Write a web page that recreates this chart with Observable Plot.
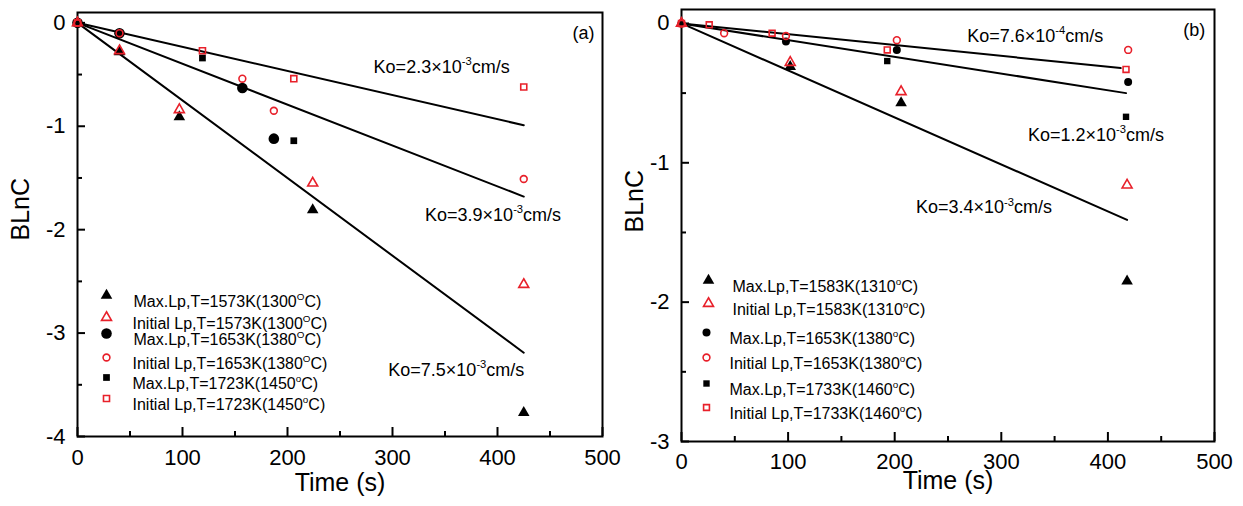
<!DOCTYPE html>
<html><head><meta charset="utf-8">
<script src="https://cdn.jsdelivr.net/npm/d3@7"></script>
<script src="https://cdn.jsdelivr.net/npm/@observablehq/plot@0.6"></script>
<style>
body{margin:0;background:#fff;}
#wrap{position:relative;width:1243px;height:506px;overflow:hidden;background:#fff;}
.panel{position:absolute;top:0;}
</style>
</head><body><div id="wrap"></div>
<script>
// ---------- Panel (a) data ----------
const a_t1573 = [0, 40, 97, 224, 425];
const a_max1573 = [0, -0.28, -0.91, -1.81, -3.77];
const a_init1573 = [0, -0.27, -0.84, -1.55, -2.53];
const a_t1653max = [0, 40, 157, 187];
const a_max1653 = [0, -0.10, -0.63, -1.12];
const a_t1653init = [0, 40, 157, 187, 425];
const a_init1653 = [0, -0.10, -0.54, -0.85, -1.51];
const a_t1723max = [0, 119, 206];
const a_max1723 = [0, -0.34, -1.14];
const a_t1723init = [0, 119, 206, 425];
const a_init1723 = [0, -0.27, -0.54, -0.62];
const a_fitEndX = [425, 425, 425];
const a_fitEndY = [-0.99, -1.68, -3.19];
const a_koText = ["Ko=2.3×10^{-3}cm/s", "Ko=3.9×10^{-3}cm/s", "Ko=7.5×10^{-3}cm/s"];
const a_koX = [282, 331, 296];
const a_koY = [-0.43, -1.86, -3.36];
const a_legend = ["Max.Lp,T=1573K(1300^{O}C)", "Initial Lp,T=1573K(1300^{O}C)",
  "Max.Lp,T=1653K(1380^{O}C)", "Initial Lp,T=1653K(1380^{O}C)",
  "Max.Lp,T=1723K(1450^{o}C)", "Initial Lp,T=1723K(1450^{o}C)"];

// ---------- Panel (b) data ----------
const b_t1583 = [0, 102, 206, 418];
const b_max1583 = [0, -0.31, -0.57, -1.85];
const b_init1583 = [0, -0.28, -0.49, -1.16];
const b_t1653max = [0, 98, 202, 419];
const b_max1653 = [0, -0.13, -0.19, -0.42];
const b_t1653init = [0, 40, 98, 202, 419];
const b_init1653 = [0, -0.07, -0.09, -0.12, -0.19];
const b_t1733max = [0, 193, 417];
const b_max1733 = [0, -0.27, -0.67];
const b_t1733init = [0, 26, 85, 193, 417];
const b_init1733 = [0, -0.01, -0.07, -0.19, -0.33];
const b_fitEndX = [412, 417, 418];
const b_fitEndY = [-0.32, -0.50, -1.41];
const b_koText = ["Ko=7.6×10^{-4}cm/s", "Ko=1.2×10^{-3}cm/s", "Ko=3.4×10^{-3}cm/s"];
const b_koX = [268, 325, 220];
const b_koY = [-0.09, -0.80, -1.32];
const b_legend = ["Max.Lp,T=1583K(1310^{o}C)", "Initial Lp,T=1583K(1310^{o}C)",
  "Max.Lp,T=1653K(1380^{o}C)", "Initial Lp,T=1653K(1380^{o}C)",
  "Max.Lp,T=1733K(1460^{o}C)", "Initial Lp,T=1733K(1460^{o}C)"];

// ---------- ticks ----------
const xMajor = [0, 100, 200, 300, 400, 500];
const xMinor = [50, 150, 250, 350, 450];
const a_yMajor = [0, -1, -2, -3, -4];
const a_yMinor = [-0.5, -1.5, -2.5, -3.5];
const b_yMajor = [0, -1, -2, -3];
const b_yMinor = [-0.5, -1.5, -2.5];

const RED = "#e8202a";
const FONT = "'Liberation Sans', Arial, Helvetica, sans-serif";

function pts(t, v) { return t.map((d, i) => ({x: d, y: v[i]})); }

function supify(root) {
  root.querySelectorAll("text").forEach(t => {
    const s = t.textContent;
    if (!s.includes("^{")) return;
    const holder = t.closest("[font-size]");
    const fs = parseFloat(holder ? holder.getAttribute("font-size") : 16);
    const parts = s.split(/(\^\{[^}]*\})/).filter(p => p.length);
    while (t.firstChild) t.removeChild(t.firstChild);
    let raised = false;
    const ns = "http://www.w3.org/2000/svg";
    parts.forEach(p => {
      const ts = document.createElementNS(ns, "tspan");
      if (p.startsWith("^{")) {
        ts.textContent = p.slice(2, -1);
        ts.setAttribute("font-size", (fs * 0.62).toFixed(1));
        ts.setAttribute("dy", (-fs * 0.42).toFixed(1));
        raised = true;
      } else {
        ts.textContent = p;
        if (raised) { ts.setAttribute("dy", (fs * 0.42).toFixed(1)); raised = false; }
      }
      t.appendChild(ts);
    });
  });
}

function panel(cfg) {
  const plotW = cfg.width - cfg.ml - cfg.mr;
  const plotH = cfg.height - cfg.mt - cfg.mb;
  const s = cfg.sizes;
  const marks = [
    Plot.frame({stroke: "black", strokeWidth: 2}),
    Plot.tickX(xMajor, {x: d => d, insetTop: plotH - 9, stroke: "black", strokeWidth: 2}),
    Plot.tickX(xMinor, {x: d => d, insetTop: plotH - 5, stroke: "black", strokeWidth: 2}),
    Plot.tickY(cfg.yMajor, {y: d => d, insetRight: plotW - 8, stroke: "black", strokeWidth: 2}),
    Plot.tickY(cfg.yMinor, {y: d => d, insetRight: plotW - 5, stroke: "black", strokeWidth: 2}),
    Plot.axisX(xMajor, {tickSize: 0, tickPadding: cfg.xPad, fontSize: 22, label: null, tickFormat: d => String(d)}),
    Plot.axisY(cfg.yMajor, {tickSize: 0, tickPadding: 12, fontSize: 22, label: null, tickFormat: d => String(d)}),
    Plot.text(["Time (s)"], {frameAnchor: "bottom", dy: cfg.xTitleDy, text: d => d, fontSize: 25}),
    Plot.text(["BLnC"], {frameAnchor: "left", dx: cfg.yTitleDx, dy: cfg.yTitleDy, rotate: -90, text: d => d, fontSize: 25}),
    Plot.line(cfg.fitX.flatMap((xe, i) => [{id: i, x: 0, y: 0}, {id: i, x: xe, y: cfg.fitY[i]}]),
      {x: "x", y: "y", z: "id", stroke: "black", strokeWidth: 2}),
    // black (max) first, red (initial) on top
    Plot.dot(cfg.series[0], {x: "x", y: "y", symbol: "triangle", fill: "black", r: s.tri}),
    Plot.dot(cfg.series[2], {x: "x", y: "y", symbol: "circle", fill: "black", r: s.cir}),
    Plot.dot(cfg.series[4], {x: "x", y: "y", symbol: "square", fill: "black", r: s.sq}),
    Plot.dot(cfg.series[1], {x: "x", y: "y", symbol: "triangle", stroke: RED, strokeWidth: 1.6, r: s.rtri}),
    Plot.dot(cfg.series[3], {x: "x", y: "y", symbol: "circle", stroke: RED, strokeWidth: 1.6, r: s.rcir}),
    Plot.dot(cfg.series[5], {x: "x", y: "y", symbol: "square", stroke: RED, strokeWidth: 1.6, r: s.rsq}),
    Plot.text(cfg.koText, {x: (d, i) => cfg.koX[i], y: (d, i) => cfg.koY[i], text: d => d, textAnchor: "start", fontSize: 18}),
    Plot.text([cfg.tag], {x: cfg.tagXY[0], y: cfg.tagXY[1], text: d => d, fontSize: 18})
  ];
  const legSym = ["triangle", "triangle", "circle", "circle", "square", "square"];
  const legR = [s.tri, s.rtri, s.cir, s.rcir, s.sq, s.rsq];
  cfg.legend.forEach((lab, i) => {
    const red = i % 2 === 1;
    const dy = cfg.legY[i] - cfg.mt;
    marks.push(Plot.dot([lab], {frameAnchor: "top-left", dx: cfg.legSymX[i] - cfg.left - cfg.ml, dy,
      symbol: legSym[i], r: legR[i],
      fill: red ? "none" : "black", stroke: red ? RED : "none", strokeWidth: 1.6}));
    marks.push(Plot.text([lab], {frameAnchor: "top-left", dx: cfg.legTextX[i] - cfg.left - cfg.ml, dy,
      text: d => d, textAnchor: "start", fontSize: 16}));
  });
  const svg = Plot.plot({
    width: cfg.width, height: cfg.height,
    marginLeft: cfg.ml, marginRight: cfg.mr, marginTop: cfg.mt, marginBottom: cfg.mb,
    x: {domain: [0, 500], axis: null},
    y: {domain: [cfg.yMin, 0.1], axis: null},
    style: {fontFamily: FONT, color: "black", background: "transparent", overflow: "visible"},
    marks
  });
  supify(svg);
  svg.classList.add("panel");
  svg.style.left = cfg.left + "px";
  return svg;
}

const wrap = document.getElementById("wrap");
wrap.appendChild(panel({
  left: 0, width: 620, height: 506, ml: 77, mr: 18, mt: 12, mb: 70,
  yMin: -4, yMajor: a_yMajor, yMinor: a_yMinor, xPad: 13,
  xTitleDy: 54, yTitleDx: -57, yTitleDy: 16,
  series: [pts(a_t1573, a_max1573), pts(a_t1573, a_init1573),
           pts(a_t1653max, a_max1653), pts(a_t1653init, a_init1653),
           pts(a_t1723max, a_max1723), pts(a_t1723init, a_init1723)],
  fitX: a_fitEndX, fitY: a_fitEndY,
  koText: a_koText, koX: a_koX, koY: a_koY,
  tag: "(a)", tagXY: [482, -0.10],
  legend: a_legend,
  legY: [295, 317, 333, 357, 377, 398],
  legSymX: [106, 106, 106, 106, 106, 106],
  legTextX: [133, 132, 133, 132, 132, 132],
  sizes: {tri: 4.3, rtri: 3.7, cir: 5.3, rcir: 3.4, sq: 3.8, rsq: 3.4}
}));
wrap.appendChild(panel({
  left: 620, width: 623, height: 506, ml: 61, mr: 29, mt: 9, mb: 65,
  yMin: -3, yMajor: b_yMajor, yMinor: b_yMinor, xPad: 12,
  xTitleDy: 47, yTitleDx: -47, yTitleDy: 7,
  series: [pts(b_t1583, b_max1583), pts(b_t1583, b_init1583),
           pts(b_t1653max, b_max1653), pts(b_t1653init, b_init1653),
           pts(b_t1733max, b_max1733), pts(b_t1733init, b_init1733)],
  fitX: b_fitEndX, fitY: b_fitEndY,
  koText: b_koText, koX: b_koX, koY: b_koY,
  tag: "(b)", tagXY: [481, -0.05],
  legend: b_legend,
  legY: [280, 303, 332, 357, 383, 407],
  legSymX: [708, 708, 706, 706, 706, 706],
  legTextX: [732, 732, 729, 729, 729, 729],
  sizes: {tri: 4.3, rtri: 3.7, cir: 4.0, rcir: 3.4, sq: 3.6, rsq: 3.3}
}));
</script>
</body></html>
